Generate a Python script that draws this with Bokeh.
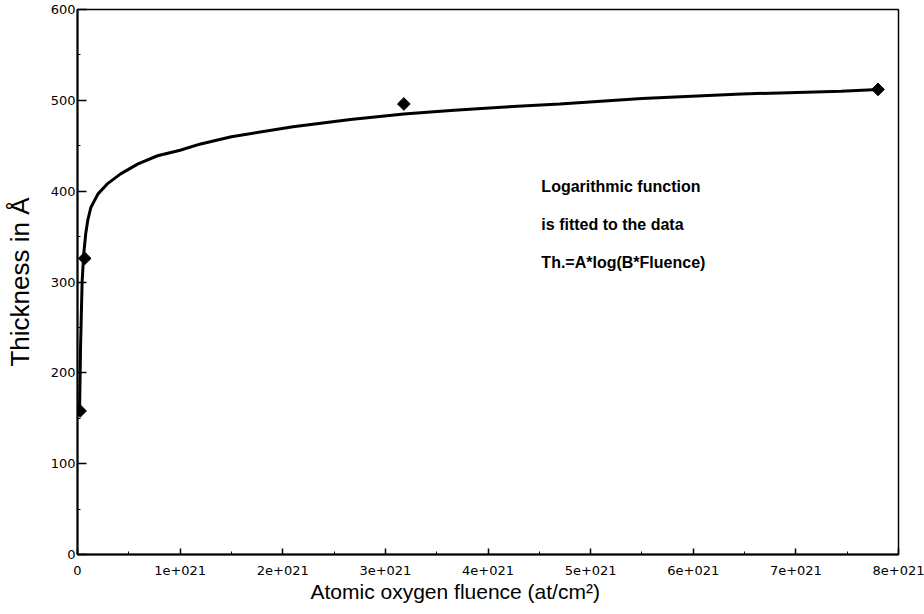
import math
from bokeh.plotting import figure
from bokeh.models import Range1d, FixedTicker, CustomJSTickFormatter, Label, Title
from bokeh.embed import file_html
from bokeh.resources import INLINE

# Measured data points (fluence in at/cm^2, thickness in Angstrom)
pt_fluence = [0.025e21, 0.07e21, 3.18e21, 7.80e21]
pt_thickness = [158, 326, 496, 512]

# Fitted logarithmic curve
curve_fluence = [0.02e21, 0.03e21, 0.045e21, 0.06e21, 0.08e21, 0.10e21, 0.13e21,
                 0.20e21, 0.29e21, 0.42e21, 0.59e21, 0.78e21, 1.0e21, 1.2e21,
                 1.5e21, 2.1e21, 2.66e21, 3.18e21, 3.67e21, 4.13e21, 4.7e21,
                 5.5e21, 6.47e21, 7.44e21, 7.80e21]
curve_thickness = [158, 230, 300, 330, 353, 368, 382,
                   397, 408, 419, 430, 439, 445, 452,
                   460, 471, 479, 485, 489, 492.5, 496,
                   502, 507, 510, 512]

x_ticks = [0, 1e21, 2e21, 3e21, 4e21, 5e21, 6e21, 7e21, 8e21]
x_tick_labels = ["0", "1e+021", "2e+021", "3e+021", "4e+021", "5e+021", "6e+021", "7e+021", "8e+021"]
x_minor = [0.5e21, 1.5e21, 2.5e21, 3.5e21, 4.5e21, 5.5e21, 6.5e21, 7.5e21]
y_ticks = [0, 100, 200, 300, 400, 500, 600]
y_tick_labels = ["0", "100", "200", "300", "400", "500", "600"]
y_minor = [50, 150, 250, 350, 450, 550]

x_title = "Atomic oxygen fluence (at/cm²)"
y_title = "Thickness in Å"
note_lines = ["Logarithmic function", "is fitted to the data", "Th.=A*log(B*Fluence)"]

p = figure(width=924, height=612, x_range=Range1d(0, 8e21), y_range=Range1d(0, 600),
           output_backend="svg", toolbar_location=None,
           min_border_left=77, min_border_right=26, min_border_top=9, min_border_bottom=58)
p.grid.visible = False
p.outline_line_color = "black"
p.outline_line_width = 1.5
p.background_fill_color = "white"
p.border_fill_color = "white"

tick_font = "DejaVu Sans"

xa = p.xaxis[0]
xa.ticker = FixedTicker(ticks=x_ticks, minor_ticks=x_minor)
xa.formatter = CustomJSTickFormatter(args=dict(tvals=x_ticks, tlabels=x_tick_labels), code="""
const i = tvals.findIndex(t => Math.abs(t - tick) < 1e15);
return i >= 0 ? tlabels[i] : '';
""")
ya = p.yaxis[0]
ya.ticker = FixedTicker(ticks=y_ticks, minor_ticks=y_minor)
ya.formatter = CustomJSTickFormatter(args=dict(tvals=y_ticks, tlabels=y_tick_labels), code="""
const i = tvals.indexOf(tick);
return i >= 0 ? tlabels[i] : '';
""")

for ax in (xa, ya):
    ax.major_tick_out = 0
    ax.minor_tick_in = 3
    ax.minor_tick_out = 0
    ax.axis_line_width = 2
    ax.axis_line_color = "black"
    ax.major_tick_line_color = "black"
    ax.minor_tick_line_color = "black"
    ax.major_tick_line_width = 1.5
    ax.major_label_text_font = tick_font
    ax.major_label_text_font_size = "13px"
    ax.major_label_text_color = "black"
    ax.axis_label_text_color = "black"
    ax.axis_label_text_font = "Liberation Sans"
    ax.axis_label_text_font_style = "normal"

xa.major_tick_in = 6
xa.major_label_standoff = 11

ya.major_tick_in = 9
ya.major_label_standoff = 2
ya.axis_label = y_title
ya.axis_label_text_font_size = "26px"
ya.axis_label_standoff = 13

# x-axis title, placed below the axis and shifted left as in the original
p.add_layout(Title(text=x_title, align="left", offset=233, standoff=0,
                   text_font="Liberation Sans", text_font_style="normal",
                   text_font_size="21px", text_color="black"), "below")

p.line(curve_fluence, curve_thickness, line_width=3, color="black")
p.scatter(pt_fluence, pt_thickness, marker="square", angle=math.pi / 4, size=9,
          color="black")

for yv, txt in zip([405, 363, 321], note_lines):
    p.add_layout(Label(x=4.52e21, y=yv, text=txt, text_align="left", text_baseline="middle",
                       text_font="Liberation Sans", text_font_style="bold",
                       text_font_size="16px", text_color="black"))

open("out.html", "w").write(file_html(p, INLINE))
